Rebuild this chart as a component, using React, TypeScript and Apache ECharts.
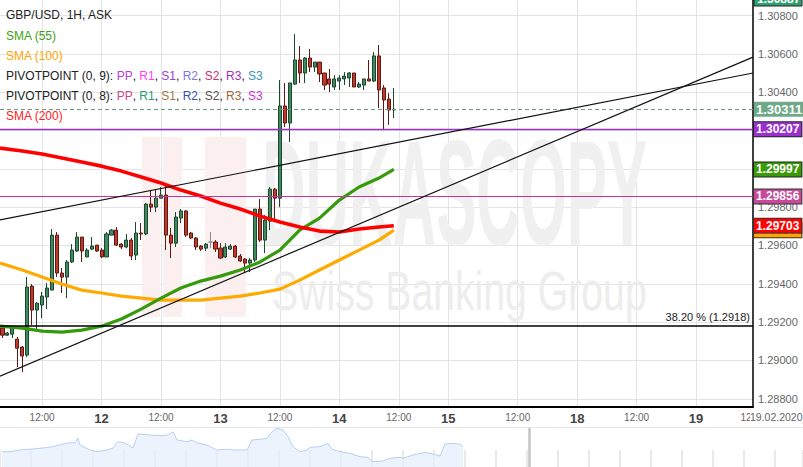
import React, { useEffect, useRef } from 'react';
import * as echarts from 'echarts';

const FONT = '"Liberation Sans", Arial, sans-serif';

// ---- candles (hourly, index 0 = first visible candle) ----
const opens = [1.29169,1.29132,1.29137,1.29111,1.29070,1.29028,1.29388,1.29263,1.29289,1.29331,1.29367,1.29654,1.29456,1.29435,1.29514,1.29571,1.29644,1.29540,1.29581,1.29602,1.29576,1.29540,1.29654,1.29680,1.29607,1.29592,1.29628,1.29550,1.29665,1.29660,1.29816,1.29800,1.29847,1.29863,1.29654,1.29612,1.29743,1.29780,1.29665,1.29639,1.29597,1.29586,1.29618,1.29618,1.29586,1.29540,1.29581,1.29597,1.29545,1.29529,1.29508,1.29524,1.29790,1.29628,1.29727,1.29894,1.29847,1.30328,1.30239,1.30442,1.30568,1.30500,1.30578,1.30531,1.30557,1.30500,1.30469,1.30427,1.30458,1.30469,1.30474,1.30500,1.30427,1.30437,1.30469,1.30458,1.30589,1.30422,1.30364,1.30307];
const closes = [1.29132,1.29143,1.29169,1.29064,1.29023,1.29383,1.29263,1.29299,1.29336,1.29378,1.29654,1.29456,1.29435,1.29514,1.29576,1.29644,1.29571,1.29576,1.29597,1.29571,1.29540,1.29660,1.29680,1.29602,1.29592,1.29628,1.29545,1.29665,1.29660,1.29816,1.29800,1.29847,1.29863,1.29654,1.29612,1.29748,1.29780,1.29654,1.29639,1.29592,1.29581,1.29607,1.29618,1.29581,1.29534,1.29592,1.29597,1.29540,1.29519,1.29508,1.29524,1.29790,1.29628,1.29733,1.29894,1.29847,1.30328,1.30239,1.30448,1.30568,1.30500,1.30578,1.30531,1.30557,1.30495,1.30437,1.30442,1.30469,1.30474,1.30484,1.30500,1.30427,1.30442,1.30469,1.30458,1.30589,1.30411,1.30359,1.30307,1.30311];
const lows = [1.29117,1.29127,1.29117,1.28965,1.28939,1.29017,1.29185,1.29158,1.29221,1.29268,1.29367,1.29435,1.29352,1.29325,1.29508,1.29566,1.29514,1.29540,1.29576,1.29566,1.29534,1.29540,1.29654,1.29597,1.29581,1.29586,1.29524,1.29524,1.29628,1.29654,1.29774,1.29774,1.29847,1.29576,1.29534,1.29592,1.29717,1.29644,1.29633,1.29576,1.29571,1.29571,1.29586,1.29566,1.29529,1.29534,1.29576,1.29534,1.29514,1.29456,1.29461,1.29514,1.29618,1.29560,1.29680,1.29733,1.29800,1.30218,1.30140,1.30437,1.30448,1.30448,1.30505,1.30505,1.30453,1.30411,1.30401,1.30411,1.30411,1.30437,1.30427,1.30427,1.30422,1.30411,1.30458,1.30453,1.30317,1.30202,1.30229,1.30265];
const highs = [1.29174,1.29148,1.29174,1.29122,1.29075,1.29435,1.29399,1.29305,1.29357,1.29404,1.29686,1.29670,1.29482,1.29524,1.29607,1.29670,1.29644,1.29586,1.29644,1.29602,1.29586,1.29670,1.29686,1.29696,1.29612,1.29660,1.29639,1.29722,1.29717,1.29821,1.29889,1.29894,1.29905,1.29915,1.29691,1.29774,1.29790,1.29785,1.29670,1.29644,1.29602,1.29612,1.29670,1.29628,1.29612,1.29612,1.29607,1.29602,1.29555,1.29534,1.29534,1.29790,1.29842,1.29759,1.29905,1.29900,1.30463,1.30448,1.30448,1.30703,1.30641,1.30583,1.30625,1.30557,1.30557,1.30500,1.30521,1.30489,1.30489,1.30505,1.30505,1.30500,1.30453,1.30469,1.30568,1.30610,1.30646,1.30437,1.30395,1.30422];

// ---- moving averages, read at these candle positions ----
const smaK = [-0.5,4,8,12,16,20,24,28,32,36,40,44,48,52,56,60,64,68,72,76,79];
const sma200 = [1.30108,1.30093,1.30077,1.30056,1.30035,1.30014,1.29988,1.29957,1.29926,1.29889,1.29858,1.29821,1.29790,1.29753,1.29722,1.29696,1.29675,1.29670,1.29686,1.29696,1.29703];
const sma100 = [1.29508,1.29472,1.29435,1.29399,1.29367,1.29352,1.29336,1.29325,1.29315,1.29315,1.29315,1.29325,1.29336,1.29352,1.29372,1.29419,1.29472,1.29524,1.29576,1.29628,1.29680];
const sma55 = [1.29179,1.29169,1.29153,1.29148,1.29158,1.29179,1.29216,1.29268,1.29325,1.29378,1.29414,1.29440,1.29472,1.29514,1.29576,1.29680,1.29743,1.29837,1.29905,1.29952,1.29997];

// ---- trend lines ----
const trendK = [-0.5, 151.5];
const upperTrend = [1.29733, 1.30500];
const lowerTrend = [1.28918, 1.30583];

// ---- levels ----
const currentPrice = 1.30311;
const level1 = 1.30207;
const level2 = 1.29856;
const fib382 = 1.2918;

// ---- axes ----
const yMin = 1.28757;
const yMax = 1.30881;
const yTicks = [1.288,1.290,1.292,1.294,1.296,1.298,1.300,1.302,1.304,1.306,1.308];
const xMin = -0.5;
const xMax = 151.5;
const xGridK = [8,20,32,44,56,68,80,90,104,116,128,140];
const xLabelK = [8,20,32,44,56,68,80,90,104,116,128,140,151.5];
const xLabelText = ['12:00','12','12:00','13','12:00','14','12:00','15','12:00','18','12:00','19','12:00'];

// ---- navigator ----
const navX = [0.2,1.0,2.0,3.3,4.3,5.3,6.7,7.5,7.8,8.0,9.0,9.7,10.7,11.3,11.8,12.5,13.3,13.8,15.0,16.0,16.8,17.3,17.7,18.7,19.2,19.7,20.7,21.7,22.7,23.3,24.7,25.2,26.0,26.7,27.2,27.7,28.3,28.8,29.3,30.0,30.7,31.0,32.0,32.8,33.2,34.0,35.0,36.0,36.8,37.2,38.3,39.0,40.0,40.3,41.3,42.5,43.3,44.0,44.5,45.3,46.0,46.3];
const navV = [1.29177,1.29177,1.29308,1.29385,1.29462,1.29562,1.29846,1.29870,1.30231,1.29693,1.29308,1.29177,1.29308,1.29462,1.29946,1.29846,1.29462,1.30539,1.30462,1.30408,1.30462,1.30715,1.30077,1.29946,1.30077,1.29846,1.29693,1.29308,1.29362,1.29308,1.29308,1.30077,1.30131,1.30208,1.30715,1.30977,1.30846,1.30331,1.29562,1.29177,1.29308,1.29516,1.29562,1.29823,1.29362,1.29177,1.29054,1.28793,1.28747,1.28408,1.28462,1.28670,1.28747,1.28670,1.28924,1.29131,1.29000,1.28847,1.29770,1.29823,1.29747,1.29562];
const navWindowEdge = 52.9;

function boxLabel(bg: string, border?: string, size = 12) {
  return {
    show: true,
    position: 'end',
    distance: 1,
    formatter: (p: any) => Number(p.value).toFixed(5),
    backgroundColor: bg,
    borderColor: border || bg,
    borderWidth: border ? 1 : 0,
    color: '#fff',
    fontWeight: 'bold',
    fontSize: size,
    fontFamily: FONT,
    lineHeight: size,
    padding: [1, 2, 1, 2],
  };
}

const hiddenLine = { color: 'rgba(0,0,0,0)', width: 0, type: 'solid' };

export default function App() {
  const ref = useRef<HTMLDivElement>(null);
  useEffect(() => {
    const chart = echarts.init(ref.current!, null, { renderer: 'svg' });
    const candleData = opens.map((o, i) => [i, o, closes[i], lows[i], highs[i]]);
    const option: any = {
      animation: false,
      backgroundColor: '#fff',
      textStyle: { fontFamily: FONT },
      grid: [
        { left: 0, right: 50, top: 0, bottom: 60, containLabel: false, outerBoundsMode: 'none' },
        { left: 0, right: 0, top: 428, bottom: 0, containLabel: false, outerBoundsMode: 'none' },
      ],
      xAxis: [
        {
          type: 'value', gridIndex: 0, min: xMin, max: xMax,
          axisLine: { show: true, onZero: false, lineStyle: { color: '#000', width: 2 } },
          axisTick: { show: false, customValues: xGridK },
          axisLabel: {
            customValues: xLabelK, showMaxLabel: true, showMinLabel: true, margin: 5,
            formatter: (v: number) => {
              const i = xLabelK.findIndex((k) => Math.abs(k - v) < 0.01);
              if (i < 0) return '';
              const t = xLabelText[i];
              return t.indexOf(':') >= 0 ? `{t|${t}}` : `{d|${t}}`;
            },
            rich: {
              t: { fontSize: 10, color: '#666', fontFamily: FONT },
              d: { fontSize: 13, fontWeight: 'bold', color: '#444', fontFamily: FONT },
            },
          },
          splitLine: { show: true, lineStyle: { color: '#e4e4e4', width: 1 } },
        },
        {
          type: 'value', gridIndex: 1, min: 0, max: 80.3, interval: 3.1,
          axisLine: { show: false, onZero: false },
          axisTick: { show: true, inside: true, length: 17, lineStyle: { color: '#e2e2e2', width: 1.5 } },
          axisLabel: { show: false },
          splitLine: { show: false },
        },
      ],
      yAxis: [
        {
          type: 'value', gridIndex: 0, position: 'right', min: yMin, max: yMax,
          axisLine: { show: true, onZero: false, lineStyle: { color: '#000', width: 1.5 } },
          axisTick: { show: false, customValues: yTicks },
          axisLabel: {
            customValues: yTicks, formatter: (v: number) => v.toFixed(5),
            color: '#666', fontSize: 11, margin: 5, fontFamily: FONT,
          },
          splitLine: { show: true, lineStyle: { color: '#e4e4e4', width: 1 } },
        },
        {
          type: 'value', gridIndex: 1, min: 1.28, max: 1.31, show: false,
          axisLine: { onZero: false },
        },
      ],
      graphic: [
        // watermark logo
        { type: 'rect', z: 1, silent: true, shape: { x: 142, y: 137, width: 18, height: 180 }, style: { fill: '#fcefef' } },
        { type: 'rect', z: 1, silent: true, shape: { x: 163, y: 137, width: 19, height: 180 }, style: { fill: '#fcefef' } },
        { type: 'rect', z: 1, silent: true, shape: { x: 205, y: 137, width: 41, height: 180 }, style: { fill: '#fcefef' } },
        { type: 'text', z: 1, silent: true, x: 262, y: 193, scaleX: 0.402,
          style: { text: 'DUKASCOPY', fontSize: 150, fontWeight: 'bold', fontFamily: FONT, fill: '#f0f0f0', verticalAlign: 'middle' } },
        { type: 'text', z: 1, silent: true, x: 272, y: 290, scaleX: 0.7,
          style: { text: 'Swiss Banking Group', fontSize: 56, fontFamily: FONT, fill: '#ededed', verticalAlign: 'middle' } },
        // legend
        { type: 'text', z: 20, x: 6, y: 15, style: { text: 'GBP/USD, 1H, ASK', fontSize: 12, fontFamily: FONT, fill: '#222', verticalAlign: 'middle' } },
        { type: 'text', z: 20, x: 6, y: 36, style: { text: 'SMA (55)', fontSize: 12, fontFamily: FONT, fill: '#3f9f12', verticalAlign: 'middle' } },
        { type: 'text', z: 20, x: 6, y: 56, style: { text: 'SMA (100)', fontSize: 12, fontFamily: FONT, fill: '#ffa500', verticalAlign: 'middle' } },
        { type: 'text', z: 20, x: 6, y: 76, style: {
          text: '{a|PIVOTPOINT (0, 9): }{pp|PP}{a|, }{r1|R1}{a|, }{s1|S1}{a|, }{r2|R2}{a|, }{s2|S2}{a|, }{r3|R3}{a|, }{s3|S3}',
          fontSize: 12, fontFamily: FONT, fill: '#222', verticalAlign: 'middle',
          rich: {
            a: { fill: '#222', fontSize: 12, fontFamily: FONT },
            pp: { fill: '#b040e0', fontSize: 12, fontFamily: FONT },
            r1: { fill: '#ff40ff', fontSize: 12, fontFamily: FONT },
            s1: { fill: '#9c3fc8', fontSize: 12, fontFamily: FONT },
            r2: { fill: '#7f78e0', fontSize: 12, fontFamily: FONT },
            s2: { fill: '#c83070', fontSize: 12, fontFamily: FONT },
            r3: { fill: '#a030c0', fontSize: 12, fontFamily: FONT },
            s3: { fill: '#3399b0', fontSize: 12, fontFamily: FONT },
          } } },
        { type: 'text', z: 20, x: 6, y: 96, style: {
          text: '{a|PIVOTPOINT (0, 8): }{pp|PP}{a|, }{r1|R1}{a|, }{s1|S1}{a|, }{r2|R2}{a|, }{s2|S2}{a|, }{r3|R3}{a|, }{s3|S3}',
          fontSize: 12, fontFamily: FONT, fill: '#222', verticalAlign: 'middle',
          rich: {
            a: { fill: '#222', fontSize: 12, fontFamily: FONT },
            pp: { fill: '#d04890', fontSize: 12, fontFamily: FONT },
            r1: { fill: '#22a06a', fontSize: 12, fontFamily: FONT },
            s1: { fill: '#a07a40', fontSize: 12, fontFamily: FONT },
            r2: { fill: '#3a50b0', fontSize: 12, fontFamily: FONT },
            s2: { fill: '#555555', fontSize: 12, fontFamily: FONT },
            r3: { fill: '#a06a3a', fontSize: 12, fontFamily: FONT },
            s3: { fill: '#d030d0', fontSize: 12, fontFamily: FONT },
          } } },
        { type: 'text', z: 20, x: 6, y: 116, style: { text: 'SMA (200)', fontSize: 12, fontFamily: FONT, fill: '#ff2020', verticalAlign: 'middle' } },
        // top-right cut label
        { type: 'rect', z: 20, shape: { x: 754, y: -8, width: 48, height: 14 }, style: { fill: '#2f9f6f', stroke: '#222', lineWidth: 1 } },
        { type: 'text', z: 21, x: 757, y: -1, style: { text: '1.30887', fontSize: 12, fontWeight: 'bold', fontFamily: FONT, fill: '#fff', verticalAlign: 'middle' } },
        // date
        { type: 'text', z: 20, x: 750, y: 417, style: { text: '19.02.2020', fontSize: 10.5, fontFamily: FONT, fill: '#666', verticalAlign: 'middle', backgroundColor: '#fff', padding: [1, 0, 1, 0] } },
        // navigator top border
        { type: 'line', z: 20, shape: { x1: 0, y1: 427.5, x2: 803, y2: 427.5 }, style: { stroke: '#e6e6e6', lineWidth: 1 } },
      ],
      series: [
        {
          type: 'candlestick', name: 'GBP/USD', xAxisIndex: 0, yAxisIndex: 0, z: 3,
          barWidth: 3.6,
          data: candleData,
          itemStyle: {
            color: '#3f8a5f', color0: '#c0392b',
            borderColor: '#1d4631', borderColor0: '#5e1a12', borderColorDoji: '#8a8a8a',
            borderWidth: 1,
          },
        },
        {
          type: 'line', name: 'SMA (100)', xAxisIndex: 0, yAxisIndex: 0, z: 4,
          data: smaK.map((k, i) => [k, sma100[i]]), showSymbol: false, symbol: 'none',
          lineStyle: { color: '#ffaa00', width: 3.2 },
        },
        {
          type: 'line', name: 'SMA (55)', xAxisIndex: 0, yAxisIndex: 0, z: 4,
          data: smaK.map((k, i) => [k, sma55[i]]), showSymbol: false, symbol: 'none',
          lineStyle: { color: '#359a0c', width: 3.2 },
        },
        {
          type: 'line', name: 'SMA (200)', xAxisIndex: 0, yAxisIndex: 0, z: 4,
          data: smaK.map((k, i) => [k, sma200[i]]), showSymbol: false, symbol: 'none',
          lineStyle: { color: '#ff0000', width: 3.6 },
        },
        {
          type: 'line', name: 'upper', xAxisIndex: 0, yAxisIndex: 0, z: 5,
          data: trendK.map((k, i) => [k, upperTrend[i]]), showSymbol: false, symbol: 'none',
          lineStyle: { color: '#111', width: 1.2 },
          markLine: {
            silent: true, symbol: ['none', 'none'], animation: false, precision: 5,
            data: [
              { yAxis: fib382, lineStyle: { color: '#000', width: 1.5, type: 'solid' },
                label: { show: true, position: 'insideEndTop', distance: 3, formatter: '38.20 % (1.2918)', color: '#222', fontSize: 11, fontFamily: FONT } },
              { yAxis: level2, lineStyle: { color: '#cc3399', width: 1.2, type: 'solid' }, label: boxLabel('#c8489a', '#333') },
              { yAxis: sma100[sma100.length - 1], lineStyle: hiddenLine, label: boxLabel('#ffa500', '#333') },
              { yAxis: sma200[sma200.length - 1], lineStyle: hiddenLine, label: boxLabel('#ff0000', '#333') },
              { yAxis: sma55[sma55.length - 1], lineStyle: hiddenLine, label: boxLabel('#3a9a08', '#222') },
              { yAxis: level1, lineStyle: { color: '#9932cc', width: 1.3, type: 'solid' }, label: boxLabel('#9b30d0', '#222') },
              { yAxis: currentPrice, lineStyle: { color: '#6a9c80', width: 1, type: [4, 3] }, label: boxLabel('#6fa98a', undefined, 13) },
            ],
          },
        },
        {
          type: 'line', name: 'lower', xAxisIndex: 0, yAxisIndex: 0, z: 5,
          data: trendK.map((k, i) => [k, lowerTrend[i]]), showSymbol: false, symbol: 'none',
          lineStyle: { color: '#111', width: 1.2 },
        },
        {
          type: 'line', name: 'navigator', xAxisIndex: 1, yAxisIndex: 1, z: 2,
          data: navX.map((x, i) => [x, navV[i]]), showSymbol: false, symbol: 'none',
          lineStyle: { color: '#b7cff3', width: 1 },
          areaStyle: { color: '#e5eefc', origin: 'start' },
          markLine: {
            silent: true, symbol: ['none', 'none'], animation: false, precision: 5, label: { show: false },
            data: [{ xAxis: navWindowEdge, lineStyle: { color: '#c4c4c4', width: 2.5, type: 'solid' } }],
          },
        },
      ],
    };
    chart.setOption(option);
    return () => chart.dispose();
  }, []);
  return <div ref={ref} style={{ position: 'fixed', left: 0, top: 0, width: 803, height: 467 }} />;
}
